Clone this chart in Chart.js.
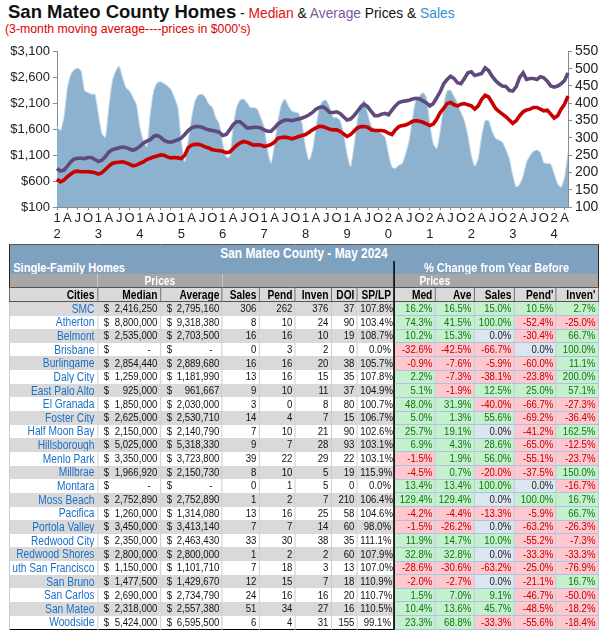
<!DOCTYPE html>
<html>
<head>
<meta charset="utf-8">
<script src="https://cdn.jsdelivr.net/npm/chart.js@4.4.1/dist/chart.umd.min.js"></script>
<style>
    body { margin: 0; background: #fff; font-family: 'Liberation Sans', Arial, sans-serif; }
    #lienzo { position: relative; width: 605px; height: 634px; overflow: hidden; }
    #titulo { position: absolute; left: 8px; top: 1px; white-space: nowrap; color: #111; }
    #titulo .grande { font-weight: bold; font-size: 18.5px; }
    #titulo .chico { font-size: 13.8px; }
    #subtitulo { position: absolute; left: 5px; top: 22px; white-space: nowrap; color: #e00000;
                 font-size: 12.3px; }
    #cajaGrafico { position: absolute; left: 0; top: 40px; width: 605px; height: 200px; }
    #cajaTabla { position: absolute; left: 9px; top: 244px; transform-origin: 0 0; transform: scaleX(0.85); }
    table { border-collapse: collapse; table-layout: fixed; width: 693px;
            border-left: 1.5px solid #000; border-right: 1.5px solid #000; border-bottom: 1.5px solid #000; }
    td { padding: 0 3px; white-space: nowrap; overflow: hidden; line-height: 1; text-align: right; }
    .azul { background: #7fa1c0; color: #fff; font-weight: bold; }
    .t1 { font-size: 14px; text-align: center; border-top: 1px solid #555; }
    .t2 { font-size: 13px; }
    .gris { background: #a6a6a6; color: #fff; font-weight: bold; font-size: 12px; text-align: center; }
    .enc td { background: #d9d9d9; font-weight: bold; font-size: 12px; color: #000;
              border: 1px solid #555; }
    .dato td { font-size: 11.3px; color: #111; border-left: 1px solid #c4c4c4; border-right: 1px solid #c4c4c4; }
    .dato.par td { background: #d9d9d9; }
    .dato td.ciudad { color: #1a6fc8; font-size: 12px; }
    .ciudad div { display: flex; justify-content: flex-end; overflow: hidden; }
    .plata { display: flex; justify-content: space-between; padding-left: 4px; }
    .linea { border-left: 2px solid #000 !important; }
    .dato td.pos { background: #c6efce !important; color: #0a7a0a; border: 1px solid #a9c4e0; }
    .dato td.neg { background: #ffc7ce !important; color: #c00000; border: 1px solid #a9c4e0; }
    .dato td.cero { background: #dce6f1 !important; color: #222; border: 1px solid #a9c4e0; }
</style>
</head>
<body>
<div id="lienzo">
    <div id="titulo"><span class="grande">San Mateo County Homes</span><span class="chico"> - <span style="color:#e01010">Median</span> &amp; <span style="color:#7a5aa0">Average</span> Prices &amp; <span style="color:#2f8fd6">Sales</span></span></div>
    <div id="subtitulo">(3-month moving average----prices in $000's)</div>
    <div id="cajaGrafico"><canvas id="chartHomes"></canvas></div>
    <div id="cajaTabla"><table id="tablaCiudades"></table></div>
</div>

<script>
// =====================================================
// Datos del gráfico (promedio móvil 3 meses, ene 2012 - may 2024)
// =====================================================

const anios = [2012, 2013, 2014, 2015, 2016, 2017, 2018, 2019, 2020, 2021, 2022, 2023, 2024];

const letrasTrimestre = { 3: "A", 6: "J", 9: "O" };

const ventas = [
    332, 321, 359, 445, 483, 497, 502, 493, 436, 431, 426, 426,
    369, 312, 302, 388, 464, 493, 507, 474, 445, 436, 417, 397,
    331, 293, 274, 369, 436, 459, 462, 457, 450, 440, 417, 388,
    293, 231, 293, 359, 407, 424, 426, 417, 397, 388, 359, 340,
    283, 245, 245, 331, 388, 409, 412, 402, 388, 388, 383, 359,
    331, 264, 226, 283, 350, 397, 412, 393, 378, 374, 371, 340,
    273, 235, 264, 331, 388, 407, 409, 388, 359, 359, 350, 312,
    255, 216, 274, 350, 397, 409, 369, 335, 326, 319, 312, 302,
    255, 216, 212, 221, 226, 255, 293, 359, 412, 421, 431, 417,
    340, 283, 269, 321, 397, 436, 438, 420, 400, 373, 350, 307,
    250, 218, 240, 306, 350, 350, 320, 299, 294, 288, 266, 240,
    192, 158, 166, 190, 230, 248, 261, 265, 258, 228, 226, 224,
    196, 167, 157, 186, 258
];

const precioMediano = [
    634, 583, 621, 684, 735, 780, 792, 780, 780, 780, 773, 761,
    735, 761, 824, 888, 939, 958, 964, 970, 951, 926, 894, 907,
    939, 970, 1015, 1040, 1066, 1085, 1104, 1097, 1066, 1047, 1053, 1047,
    1034, 1097, 1244, 1294, 1307, 1307, 1288, 1256, 1237, 1205, 1193, 1186,
    1174, 1148, 1161, 1224, 1288, 1332, 1364, 1351, 1320, 1294, 1301, 1294,
    1269, 1282, 1307, 1351, 1428, 1441, 1447, 1434, 1415, 1434, 1460, 1479,
    1498, 1542, 1587, 1625, 1656, 1650, 1625, 1599, 1587, 1587, 1561, 1510,
    1460, 1498, 1561, 1625, 1650, 1650, 1637, 1587, 1574, 1574, 1574, 1561,
    1523, 1498, 1587, 1650, 1669, 1682, 1714, 1752, 1764, 1752, 1733, 1701,
    1669, 1701, 1796, 1923, 2000, 2095, 2114, 2070, 2050, 2082, 2095, 2070,
    2050, 1987, 2050, 2177, 2254, 2222, 2114, 2000, 1942, 1891, 1841, 1777,
    1714, 1764, 1860, 1936, 1970, 1987, 2019, 2019, 1987, 1954, 1968, 1891,
    1815, 1860, 1987, 2082, 2241
];

const precioPromedio = [
    843, 792, 812, 888, 970, 1028, 1040, 1040, 1034, 1053, 1053, 1015,
    977, 1002, 1066, 1161, 1205, 1224, 1244, 1256, 1244, 1218, 1193, 1224,
    1269, 1332, 1371, 1396, 1460, 1479, 1447, 1383, 1358, 1351, 1371, 1396,
    1428, 1498, 1574, 1625, 1650, 1650, 1637, 1606, 1587, 1574, 1561, 1542,
    1479, 1498, 1587, 1688, 1745, 1745, 1688, 1625, 1625, 1637, 1637, 1625,
    1587, 1561, 1561, 1625, 1701, 1745, 1777, 1777, 1764, 1783, 1796, 1815,
    1841, 1879, 1923, 1987, 2019, 2031, 1987, 1923, 1923, 1936, 1904, 1841,
    1777, 1796, 1860, 1942, 2031, 2082, 2031, 1942, 1860, 1860, 1891, 1904,
    1879, 1968, 2050, 2114, 2133, 2146, 2158, 2184, 2196, 2184, 2146, 2108,
    2050, 2095, 2209, 2323, 2476, 2559, 2622, 2578, 2495, 2476, 2578, 2686,
    2705, 2635, 2654, 2673, 2781, 2730, 2622, 2540, 2476, 2432, 2425, 2349,
    2336, 2420, 2600, 2686, 2559, 2578, 2578, 2559, 2610, 2591, 2527, 2432,
    2413, 2432, 2476, 2540, 2686
];

// =====================================================
// Datos de la tabla - mayo 2024
// =====================================================

const ciudades = ["SMC", "Atherton", "Belmont", "Brisbane", "Burlingame", "Daly City", "East Palo Alto",
    "El Granada", "Foster City", "Half Moon Bay", "Hillsborough", "Menlo Park", "Millbrae", "Montara",
    "Moss Beach", "Pacifica", "Portola Valley", "Redwood City", "Redwood Shores", "South San Francisco",
    "San Bruno", "San Carlos", "San Mateo", "Woodside"];

const medianas = [2416250, 8800000, 2535000, null, 2854440, 1259000, 925000, 1850000, 2625000, 2150000,
    5025000, 3350000, 1966920, null, 2752890, 1260000, 3450000, 2350000, 2800000, 1150000,
    1477500, 2690000, 2318000, 5424000];

const promedios = [2795160, 9318380, 2703500, null, 2889680, 1181990, 961667, 2030000, 2530710, 2140790,
    5318330, 3723800, 2150730, null, 2752890, 1314080, 3413140, 2463430, 2800000, 1101710,
    1429670, 2734790, 2557380, 6595500];

const ventasMes = [306, 8, 16, 0, 16, 13, 9, 3, 14, 7, 9, 39, 8, 0, 1, 13, 7, 33, 1, 7, 12, 24, 51, 6];
const pendientes = [262, 10, 16, 3, 16, 16, 10, 0, 4, 10, 7, 22, 10, 1, 2, 16, 7, 30, 2, 18, 15, 16, 34, 4];
const inventario = [376, 24, 10, 2, 20, 15, 11, 8, 7, 21, 28, 29, 5, 5, 7, 25, 14, 38, 2, 3, 7, 16, 27, 31];
const diasInventario = [37, 90, 19, 0, 38, 35, 37, 80, 15, 90, 93, 22, 19, 0, 210, 58, 60, 35, 60, 13, 18, 20, 16, 155];
const precioVentaLista = [107.8, 103.4, 108.7, 0.0, 105.7, 107.8, 104.9, 100.7, 106.7, 102.6, 103.1, 103.1,
    115.9, 0.0, 106.4, 104.6, 98.0, 111.1, 107.9, 107.0, 110.9, 110.7, 110.5, 99.1];

const cambioMediana = [16.2, 74.3, 10.2, -32.6, -0.9, 2.2, 5.1, 48.0, 5.0, 25.7, 6.9, -1.5, -4.5, 13.4,
    129.4, -4.2, -1.5, 11.9, 32.8, -28.6, -2.0, 1.5, 10.4, 23.3];
const cambioPromedio = [16.5, 41.5, 15.3, -42.5, -7.6, -7.3, -1.9, 31.9, 1.3, 19.1, 4.3, 1.9, 0.7, 13.4,
    129.4, -4.4, -26.2, 14.7, 32.8, -30.6, -2.7, 7.0, 13.6, 68.8];
const cambioVentas = [15.0, 100.0, 0.0, -66.7, -5.9, -38.1, 12.5, -40.0, 55.6, 0.0, 28.6, 56.0, -20.0, 100.0,
    0.0, -13.3, 0.0, 10.0, 0.0, -63.2, 0.0, 9.1, 45.7, -33.3];
const cambioPendientes = [10.5, -52.4, -30.4, 0.0, -60.0, -23.8, 25.0, -66.7, -69.2, -41.2, -65.0, -55.1,
    -37.5, 0.0, 100.0, -5.9, -63.2, -55.2, -33.3, -25.0, -21.1, -46.7, -48.5, -55.6];
const cambioInventario = [2.7, -25.0, 66.7, 100.0, 11.1, 200.0, 57.1, -27.3, -36.4, 162.5, -12.5, -23.7,
    150.0, -16.7, 16.7, 66.7, -26.3, -7.3, -33.3, -76.9, 16.7, -50.0, -18.2, -18.4];

const encabezados = ["Cities", "Median", "Average", "Sales", "Pend", "Inven", "DOI", "SP/LP",
    "Med", "Ave", "Sales", "Pend'", "Inven'"];

// =====================================================
// Etiquetas del eje X
// =====================================================

const etiquetasMes = [];
anios.forEach(anio => {
    for (let m = 0; m < 12; m++) {
        if (etiquetasMes.length >= ventas.length) return;
        if (m === 0) {
            const dos = String(anio % 100).padStart(2, "0");
            etiquetasMes.push([dos[0], dos[1]]);
        } else {
            etiquetasMes.push(letrasTrimestre[m] || "");
        }
    }
});

// =====================================================
// Gráfico
// =====================================================

const fuenteEjes = { family: "'Liberation Sans', Arial, sans-serif", size: 13 };
const colorEje = "#8a8a8a";

new Chart(document.getElementById("chartHomes"), {
    type: "line",
    data: {
        labels: etiquetasMes,
        datasets: [
            {
                label: "Median",
                data: precioMediano,
                yAxisID: "y",
                borderColor: "#c80000",
                borderWidth: 3.6,
                pointRadius: 0,
                tension: 0,
                fill: false,
                order: 1
            },
            {
                label: "Average",
                data: precioPromedio,
                yAxisID: "y",
                borderColor: "#604a7b",
                borderWidth: 3.6,
                pointRadius: 0,
                tension: 0,
                fill: false,
                order: 2
            },
            {
                label: "Sales",
                data: ventas,
                yAxisID: "y1",
                borderColor: "#c9dceb",
                borderWidth: 1,
                backgroundColor: "#8cb2cf",
                pointRadius: 0,
                tension: 0.2,
                fill: "start",
                order: 3
            }
        ]
    },
    options: {
        responsive: true,
        maintainAspectRatio: false,
        animation: false,
        layout: { padding: { top: 10, left: 0, right: 0, bottom: 0 } },
        plugins: { legend: { display: false }, tooltip: { enabled: false } },
        scales: {
            x: {
                offset: false,
                border: { display: true, color: colorEje },
                grid: { display: true, drawOnChartArea: false, drawTicks: true, tickLength: 3, color: colorEje },
                ticks: {
                    autoSkip: false, maxRotation: 0, minRotation: 0, padding: 1,
                    color: "#222", font: fuenteEjes,
                    callback: function (v) {
                        const l = this.getLabelForValue(v);
                        return l === "" ? null : l;
                    }
                },
                afterFit: s => { s.height = 33; }
            },
            y: {
                position: "left",
                min: 100, max: 3100,
                border: { display: true, color: colorEje },
                grid: { drawOnChartArea: false, tickLength: 4, color: colorEje },
                ticks: {
                    stepSize: 500, autoSkip: false, padding: 3, color: "#222", font: fuenteEjes,
                    callback: v => "$" + v.toLocaleString("en-US")
                },
                afterFit: s => { s.width = 57; }
            },
            y1: {
                position: "right",
                min: 100, max: 550,
                border: { display: true, color: colorEje },
                grid: { drawOnChartArea: false, tickLength: 4, color: colorEje },
                ticks: {
                    stepSize: 50, autoSkip: false, padding: 3, color: "#222",
                    font: { family: fuenteEjes.family, size: 14 }
                },
                afterFit: s => { s.width = 37; }
            }
        }
    }
});

// =====================================================
// Tabla
// =====================================================

const anchosCol = [88, 63, 62, 37, 36, 36, 26, 37, 41, 39, 40, 42, 42].map(a => (a / 0.85).toFixed(1));

function plata(v) {
    if (v === null) return '<div class="plata"><span>$</span><span style="padding-right:8px">-</span></div>';
    return '<div class="plata"><span>$</span><span>' + v.toLocaleString("en-US") + "</span></div>";
}

function celdaCambio(v, extra) {
    const clase = v > 0 ? "pos" : (v < 0 ? "neg" : "cero");
    return '<td class="' + clase + (extra ? " " + extra : "") + '">' + v.toFixed(1) + "%</td>";
}

let html = "<colgroup>" + anchosCol.map(a => '<col style="width:' + a + 'px">').join("") + "</colgroup>";

html += '<tr style="height:16.5px"><td colspan="13" class="azul t1">San Mateo County - May 2024</td></tr>';
html += '<tr style="height:13.3px"><td colspan="8" class="azul t2" style="text-align:left;padding-left:4px">Single-Family Homes</td>' +
        '<td colspan="5" class="azul t2 linea" style="text-align:center">% Change from Year Before</td></tr>';
html += '<tr style="height:13.3px"><td class="gris"></td><td colspan="2" class="gris">Prices</td><td colspan="5" class="gris"></td>' +
        '<td colspan="2" class="gris linea">Prices</td><td colspan="3" class="gris"></td></tr>';
html += '<tr class="enc" style="height:14.3px">' +
        encabezados.map((e, i) => '<td' + (i === 8 ? ' class="linea"' : "") + ">" + e + "</td>").join("") + "</tr>";

ciudades.forEach((c, i) => {
    html += '<tr class="dato' + (i % 2 === 0 ? " par" : "") + '" style="height:13.65px">' +
        '<td class="ciudad"><div><span>' + c + "</span></div></td>" +
        "<td>" + plata(medianas[i]) + "</td>" +
        "<td>" + plata(promedios[i]) + "</td>" +
        "<td>" + ventasMes[i] + "</td>" +
        "<td>" + pendientes[i] + "</td>" +
        "<td>" + inventario[i] + "</td>" +
        "<td>" + diasInventario[i] + "</td>" +
        "<td>" + precioVentaLista[i].toFixed(1) + "%</td>" +
        celdaCambio(cambioMediana[i], "linea") +
        celdaCambio(cambioPromedio[i]) +
        celdaCambio(cambioVentas[i]) +
        celdaCambio(cambioPendientes[i]) +
        celdaCambio(cambioInventario[i]) +
        "</tr>";
});

document.getElementById("tablaCiudades").innerHTML = html;
</script>
</body>
</html>
